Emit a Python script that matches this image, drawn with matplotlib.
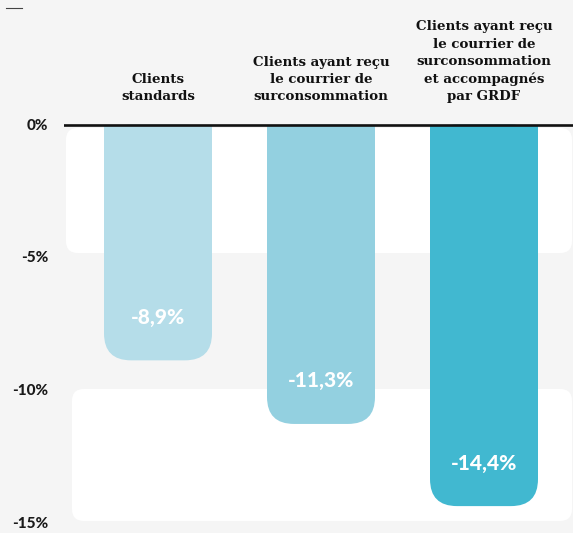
import matplotlib
matplotlib.use("Agg")
from matplotlib import pyplot as plt
from matplotlib.patches import FancyBboxPatch, Rectangle
from matplotlib.lines import Line2D

# Donnees du graphique
categories = ["Clients\nstandards",
              "Clients ayant reçu\nle courrier de\nsurconsommation",
              "Clients ayant reçu\nle courrier de\nsurconsommation\net accompagnés\npar GRDF"]
valeurs = [-8.9, -11.3, -14.4]
etiquettes = ["-8,9%", "-11,3%", "-14,4%"]
couleurs = ["#b5dde9", "#93d0e0", "#41b8d0"]
yticks = [0, -5, -10, -15]
ytick_labels = ["0%", "-5%", "-10%", "-15%"]

W, H = 573, 533
fond = "#f5f5f5"

# echelle: pixels par unite
px_x = 163.0
px_y = 26.5
y0_px = 124.5
x0_px = 158.0

fig = plt.figure(figsize=(W / 100, H / 100), dpi=100)
fig.patch.set_facecolor(fond)
left_px = 64
ax = fig.add_axes([left_px / W, 0, 1 - left_px / W, 1])
ax.set_facecolor(fond)
ax.set_xlim((left_px - x0_px) / px_x, (W - x0_px) / px_x)
ax.set_ylim(-(H - y0_px) / px_y, y0_px / px_y)
for s in ax.spines.values():
    s.set_visible(False)
ax.set_xticks([])
ax.set_yticks(yticks)
ax.set_yticklabels(ytick_labels, fontfamily="Lato", fontweight=900,
                   fontsize=11, color="#1a1a1a")
ax.tick_params(axis="y", length=0, pad=11.5)

aspect = px_x / px_y

# bandes blanches
def bande(x_px, haut, bas):
    xa = (x_px - x0_px) / px_x
    xb = (W - 1 - x0_px) / px_x
    r = 12 / px_x
    p = FancyBboxPatch((xa, bas), xb - xa, haut - bas,
                       boxstyle="round,pad=0,rounding_size=%f" % r,
                       mutation_aspect=aspect, facecolor="white",
                       edgecolor="none", zorder=1)
    ax.add_patch(p)

bande(66, -0.13, -4.85)
bande(72, -9.98, -14.96)

# barres arrondies en bas
largeur = 108 / px_x
r = 27 / px_x
for i, v in enumerate(valeurs):
    xa = i - largeur / 2
    p = FancyBboxPatch((xa, v), largeur, -v,
                       boxstyle="round,pad=0,rounding_size=%f" % r,
                       mutation_aspect=aspect, facecolor=couleurs[i],
                       edgecolor="none", zorder=2)
    ax.add_patch(p)
    ax.add_patch(Rectangle((xa, v / 2), largeur, -v / 2,
                           facecolor=couleurs[i], edgecolor="none", zorder=2))
    ax.annotate(etiquettes[i], (i, v), xytext=(0, 31), textcoords="offset points",
                ha="center", va="center", color="white", fontfamily="Lato",
                fontweight=900, fontsize=15, zorder=4)
    ax.text(i, (y0_px - 103) / px_y, categories[i], ha="center", va="bottom",
            multialignment="center", fontfamily="DejaVu Serif", fontweight="bold",
            fontsize=9.6, color="#111111", linespacing=1.42, zorder=4)

ax.axhline(0, color="#111111", lw=1.9, zorder=3)

# petit trait en haut a gauche
fig.add_artist(Line2D([6 / W, 22 / W], [1 - 8 / H, 1 - 8 / H],
                      color="#444444", lw=0.8))

fig.savefig("out.png", dpi=100, facecolor=fond)
